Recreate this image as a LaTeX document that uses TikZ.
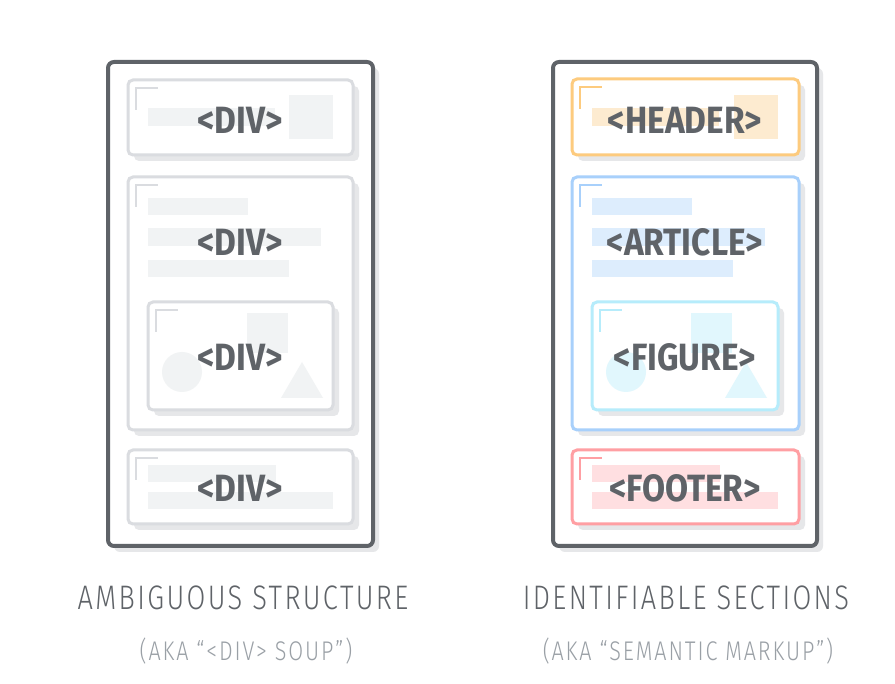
\documentclass[tikz,border=0pt]{standalone}
\usepackage{fontspec}
\setmainfont{Fira Sans}
\newfontfamily\tagfont{Fira Sans}[FakeStretch=0.88]
\newfontfamily\thinfont{Fira Sans}[UprightFont={* Light}, FakeStretch=0.8, LetterSpace=7]

\definecolor{frame}{HTML}{5F6368}
\definecolor{shadowgray}{HTML}{E6E7E9}
\definecolor{subgray}{HTML}{9AA0A6}
\definecolor{divline}{HTML}{DADCE0}
\definecolor{divfill}{HTML}{F1F3F4}
\definecolor{hdrline}{HTML}{FDCB7E}
\definecolor{hdrfill}{HTML}{FDEBD0}
\definecolor{artline}{HTML}{A8D0FB}
\definecolor{artfill}{HTML}{DDEDFD}
\definecolor{figline}{HTML}{B6ECFB}
\definecolor{figfill}{HTML}{E1F7FD}
\definecolor{ftrline}{HTML}{FF9FA3}
\definecolor{ftrfill}{HTML}{FFDFE1}

\tikzset{
  tag/.style={text=frame, font=\tagfont\bfseries\fontsize{38}{38}\selectfont, inner sep=0pt},
  caption/.style={text=frame, font=\thinfont\fontsize{34}{34}\selectfont, inner sep=0pt},
  subcaption/.style={text=subgray, font=\thinfont\fontsize{27}{27}\selectfont, inner sep=0pt}
}

% box with shadow and corner mark: colour prefix, corner, corner
\newcommand{\sectbox}[3]{%
  \fill[shadowgray, rounded corners=5, shift={(6,6)}] #2 rectangle #3;
  \draw[draw=#1line, line width=3, fill=white, rounded corners=5] #2 rectangle #3;
  \draw[draw=#1line, line width=1.5] #2 ++(8,30) |- ++(22,-22);
}

\begin{document}
\begin{tikzpicture}[x=1pt,y=-1pt]
  \useasboundingbox[fill=white] (0,0) rectangle (895,684);

  % ---- left: div soup
  \fill[shadowgray, rounded corners=6, shift={(6,6)}] (108,62) rectangle (373,546);
  \draw[frame, line width=4, fill=white, rounded corners=6] (108,62) rectangle (373,546);

  \sectbox{div}{(128,80)}{(353,155)}
  \fill[divfill] (148,108) rectangle (275,126);
  \fill[divfill] (289,95) rectangle (333,139);
  \node[tag] (div1) at (240,120) {<DIV>};

  \sectbox{div}{(128,177)}{(353,430)}
  \fill[divfill] (148,198) rectangle (248,215);
  \fill[divfill] (148,228) rectangle (321,246);
  \fill[divfill] (148,260) rectangle (289,277);
  \node[tag] (div2) at (240,242) {<DIV>};

  \sectbox{div}{(148,302)}{(333,410)}
  \fill[divfill] (247,313) rectangle (288,353);
  \fill[divfill] (182,372) circle (20);
  \fill[divfill] (302,362) -- (323,398) -- (281,398) -- cycle;
  \node[tag] (div3) at (240,357) {<DIV>};

  \sectbox{div}{(128,450)}{(353,524)}
  \fill[divfill] (148,465) rectangle (276,482);
  \fill[divfill] (148,492) rectangle (333,509);
  \node[tag] (div4) at (240,488) {<DIV>};

  % ---- right: semantic markup
  \fill[shadowgray, rounded corners=6, shift={(6,6)}] (553,62) rectangle (817,546);
  \draw[frame, line width=4, fill=white, rounded corners=6] (553,62) rectangle (817,546);

  \sectbox{hdr}{(572,79)}{(799,155)}
  \fill[hdrfill] (592,108) rectangle (719,126);
  \fill[hdrfill] (734,95) rectangle (778,139);
  \node[tag] (header) at (685,120) {<HEADER>};

  \sectbox{art}{(572,177)}{(799,430)}
  \fill[artfill] (592,198) rectangle (692,215);
  \fill[artfill] (592,228) rectangle (765,246);
  \fill[artfill] (592,260) rectangle (733,277);
  \node[tag] (article) at (685,242) {<ARTICLE>};

  \sectbox{fig}{(592,302)}{(778,410)}
  \fill[figfill] (691,313) rectangle (732,353);
  \fill[figfill] (626,372) circle (20);
  \fill[figfill] (746,362) -- (767,398) -- (725,398) -- cycle;
  \node[tag] (figure) at (685,357) {<FIGURE>};

  \sectbox{ftr}{(572,450)}{(799,524)}
  \fill[ftrfill] (592,465) rectangle (720,482);
  \fill[ftrfill] (592,492) rectangle (778,509);
  \node[tag] (footer) at (685,488) {<FOOTER>};

  % ---- captions
  \node[caption] (soup) at (243,598) {AMBIGUOUS STRUCTURE};
  \node[subcaption] (soupnote) at (246,651) {(AKA “<DIV> SOUP”)};
  \node[caption] (sections) at (686,598) {IDENTIFIABLE SECTIONS};
  \node[subcaption] (sectionsnote) at (688,651) {(AKA “SEMANTIC MARKUP”)};
\end{tikzpicture}
\end{document}
